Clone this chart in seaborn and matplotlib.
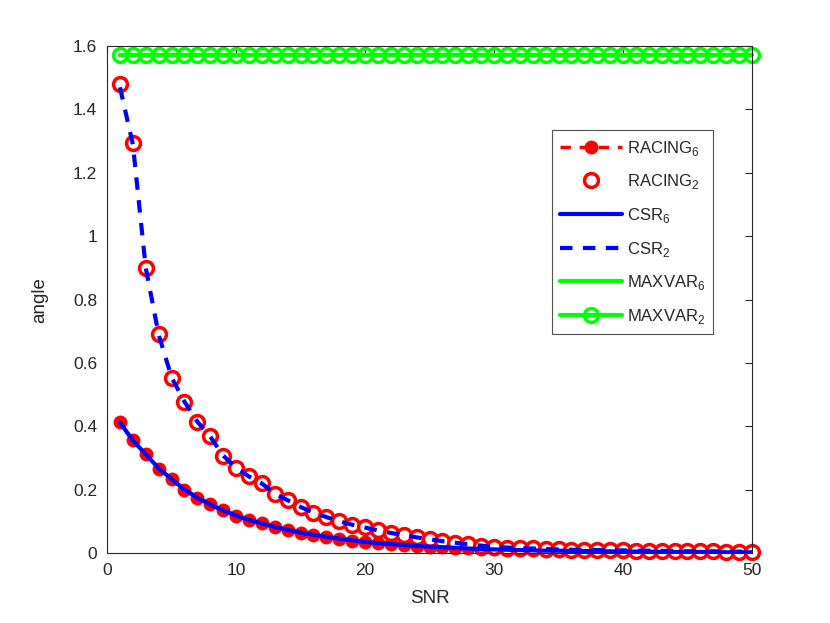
import numpy as np
import seaborn as sns
import matplotlib.pyplot as plt
from matplotlib.ticker import FuncFormatter

# SNR values
snr = list(range(1, 51))

# angle values
racing2 = [1.482, 1.295, 0.899, 0.692, 0.552, 0.478, 0.414, 0.370, 0.307, 0.268,
           0.243, 0.221, 0.187, 0.167, 0.146, 0.127, 0.114, 0.101, 0.089, 0.082,
           0.073, 0.064, 0.057, 0.050, 0.044, 0.038, 0.033, 0.028, 0.023, 0.020,
           0.018, 0.016, 0.015, 0.013, 0.012, 0.011, 0.010, 0.010, 0.009, 0.009,
           0.008, 0.008, 0.007, 0.007, 0.006, 0.006, 0.006, 0.005, 0.005, 0.005]
racing6 = [0.414, 0.357, 0.313, 0.267, 0.235, 0.200, 0.175, 0.155, 0.135, 0.119,
           0.105, 0.095, 0.083, 0.074, 0.065, 0.058, 0.052, 0.046, 0.040, 0.036,
           0.032, 0.029, 0.026, 0.023, 0.021, 0.019, 0.017, 0.015, 0.013, 0.012,
           0.011, 0.010, 0.009, 0.008, 0.008, 0.007, 0.007, 0.006, 0.006, 0.005,
           0.005, 0.005, 0.004, 0.004, 0.004, 0.004, 0.003, 0.003, 0.003, 0.003]
csr2 = [1.470, 1.290, 0.900, 0.690, 0.555, 0.478, 0.415, 0.368, 0.308, 0.270,
        0.242, 0.220, 0.188, 0.167, 0.146, 0.128, 0.114, 0.101, 0.090, 0.081,
        0.072, 0.064, 0.057, 0.050, 0.044, 0.038, 0.033, 0.028, 0.024, 0.020,
        0.018, 0.016, 0.015, 0.013, 0.012, 0.011, 0.010, 0.010, 0.009, 0.009,
        0.008, 0.008, 0.007, 0.007, 0.006, 0.006, 0.006, 0.005, 0.005, 0.005]
csr6 = [0.412, 0.356, 0.312, 0.268, 0.234, 0.201, 0.175, 0.154, 0.135, 0.119,
        0.105, 0.094, 0.083, 0.074, 0.065, 0.058, 0.052, 0.046, 0.041, 0.036,
        0.032, 0.029, 0.026, 0.023, 0.021, 0.019, 0.017, 0.015, 0.013, 0.012,
        0.011, 0.010, 0.009, 0.008, 0.008, 0.007, 0.007, 0.006, 0.006, 0.005,
        0.005, 0.005, 0.004, 0.004, 0.004, 0.004, 0.003, 0.003, 0.003, 0.003]
maxvar6 = [1.5708] * 50
maxvar2 = [1.5708] * 50

sns.set_style('white')
plt.rcParams['font.family'] = ['Liberation Sans', 'DejaVu Sans']
plt.rcParams['mathtext.fontset'] = 'custom'
plt.rcParams['mathtext.rm'] = 'Liberation Sans'

fig = plt.figure(figsize=(8.3, 6.23), dpi=100)
ax = fig.add_axes([0.129, 0.112, 0.777, 0.814])

sns.lineplot(x=snr, y=racing6, ax=ax, color='#ff0000', linestyle=(0, (3, 2.5)), lw=2.5,
             marker='o', markersize=10, markeredgewidth=0, clip_on=False,
             label=r'RACING$_{6}$')
sns.lineplot(x=snr, y=racing2, ax=ax, color='#ff0000', linestyle='none',
             marker='o', markersize=10, markerfacecolor='white',
             markeredgecolor='#ff0000', markeredgewidth=2.5, clip_on=False,
             label=r'RACING$_{2}$')
sns.lineplot(x=snr, y=csr6, ax=ax, color='#0000ff', linestyle='-', lw=3,
             label=r'CSR$_{6}$')
sns.lineplot(x=snr, y=csr2, ax=ax, color='#0000ff', linestyle=(0, (3, 2.5)), lw=3,
             label=r'CSR$_{2}$')
sns.lineplot(x=snr, y=maxvar6, ax=ax, color='#00ff00', linestyle='-', lw=3,
             label=r'MAXVAR$_{6}$')
sns.lineplot(x=snr, y=maxvar2, ax=ax, color='#00ff00', linestyle='-', lw=3,
             marker='o', markersize=10, markerfacecolor='none',
             markeredgecolor='#00ff00', markeredgewidth=2.5, clip_on=False,
             label=r'MAXVAR$_{2}$')

ax.set_xlim(0, 50)
ax.set_ylim(0, 1.6)
ax.set_xticks(np.arange(0, 51, 10))
ax.set_yticks(np.arange(0, 1.61, 0.2))
ax.yaxis.set_major_formatter(FuncFormatter(lambda v, p: '%g' % round(v, 1)))
ax.tick_params(direction='in', length=5, width=0.8, top=True, right=True,
               labelsize=12.5, colors='#262626', pad=7)
for s in ax.spines.values():
    s.set_color('#262626')
    s.set_linewidth(0.8)
ax.set_xlabel('SNR', fontsize=13.5, color='#262626', labelpad=9)
ax.set_ylabel('angle', fontsize=13.5, color='#262626', labelpad=18)

leg = ax.legend(loc='upper right', bbox_to_anchor=(0.94, 0.834), fontsize=12,
                frameon=True, fancybox=False, edgecolor='#262626',
                handlelength=3.7, handletextpad=0.3, labelspacing=0.88,
                borderpad=0.5, borderaxespad=0)
leg.get_frame().set_linewidth(0.8)

plt.savefig('out.png', dpi=100)
